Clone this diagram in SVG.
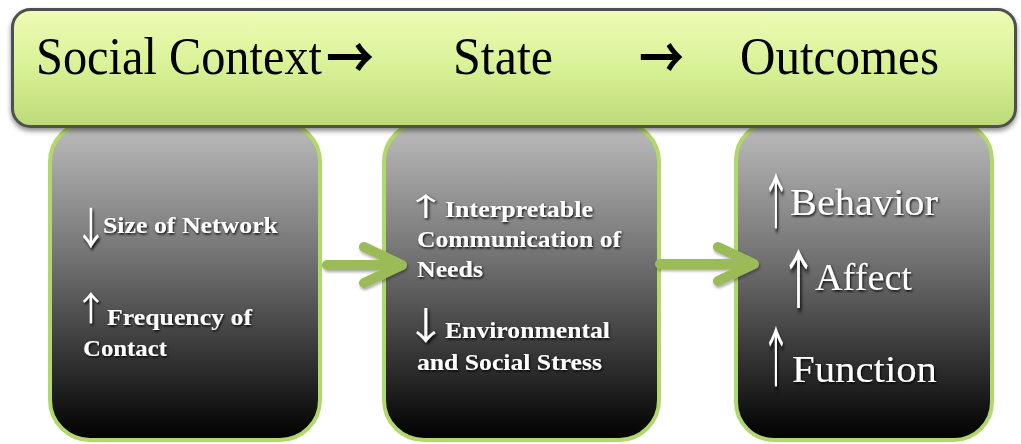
<svg xmlns="http://www.w3.org/2000/svg" width="1021" height="444" viewBox="0 0 1021 444">
<defs>
<linearGradient id="hdr" x1="0" y1="0" x2="0" y2="1">
<stop offset="0" stop-color="#eefcb6"/>
<stop offset="0.5" stop-color="#d8f196"/>
<stop offset="1" stop-color="#bcd977"/>
</linearGradient>
<linearGradient id="box" x1="0" y1="0" x2="0" y2="1">
<stop offset="0" stop-color="#bdbdbd"/>
<stop offset="0.45" stop-color="#6e6e6e"/>
<stop offset="1" stop-color="#000000"/>
</linearGradient>
<filter id="hs" x="-5%" y="-20%" width="110%" height="150%">
<feDropShadow dx="0" dy="3" stdDeviation="2.5" flood-color="#000" flood-opacity="0.45"/>
</filter>
<filter id="ts" x="-10%" y="-30%" width="120%" height="160%">
<feDropShadow dx="1" dy="1.5" stdDeviation="1" flood-color="#000" flood-opacity="0.9"/>
</filter>
<filter id="as" x="-10%" y="-30%" width="120%" height="160%">
<feDropShadow dx="1" dy="2" stdDeviation="1.5" flood-color="#000" flood-opacity="0.35"/>
</filter>
</defs>
<style>
.node rect{fill:url(#box);stroke:#b1d86a;stroke-width:4}
.t{font-family:"Liberation Serif","DejaVu Serif",serif;fill:#fff;filter:url(#ts)}
.b{font-weight:bold;font-size:23px}
.n{font-size:37px}
.ar{font-family:"Noto Sans CJK JP","DejaVu Sans",sans-serif;font-size:26px;fill:#fff;filter:url(#ts)}
.h{font-family:"Liberation Serif","DejaVu Serif",serif;font-size:52px;fill:#000}
.ha{font-family:"Noto Sans CJK JP","DejaVu Sans",sans-serif;font-weight:bold;font-size:58px;fill:#000}
.conn path{fill:none;stroke:#9bbb59;stroke-width:10;stroke-linecap:round;stroke-linejoin:round}
</style>

<g id="node-social-context" class="node">
<rect x="50" y="122" width="270" height="318" rx="40"/>
<text class="ar" transform="translate(74,244) scale(1.3,1.67)">↓</text>
<text class="t b" x="103" y="233" textLength="175" lengthAdjust="spacingAndGlyphs">Size of Network</text>
<text class="ar" transform="translate(74,321) scale(1.3,1.3)">↑</text>
<text class="t b" x="107" y="325" textLength="145" lengthAdjust="spacingAndGlyphs">Frequency of</text>
<text class="t b" x="83" y="356" textLength="84" lengthAdjust="spacingAndGlyphs">Contact</text>
</g>

<g id="node-state" class="node">
<rect x="384" y="122" width="275" height="318" rx="40"/>
<text class="ar" transform="translate(405,216) scale(1.6,1.0)">↑</text>
<text class="t b" x="445" y="217" textLength="148" lengthAdjust="spacingAndGlyphs">Interpretable</text>
<text class="t b" x="417" y="247" textLength="204" lengthAdjust="spacingAndGlyphs">Communication of</text>
<text class="t b" x="417" y="277" textLength="66" lengthAdjust="spacingAndGlyphs">Needs</text>
<text class="ar" transform="translate(405,339) scale(1.6,1.45)">↓</text>
<text class="t b" x="445" y="338" textLength="165" lengthAdjust="spacingAndGlyphs">Environmental</text>
<text class="t b" x="417" y="370" textLength="185" lengthAdjust="spacingAndGlyphs">and Social Stress</text>
</g>

<g id="node-outcomes" class="node">
<rect x="736" y="122" width="256" height="318" rx="38"/>
<text class="ar" transform="translate(761,224) scale(1.15,2.3)">↑</text>
<text class="t n" x="790" y="215" textLength="148" lengthAdjust="spacingAndGlyphs">Behavior</text>
<text class="ar" transform="translate(779,303) scale(1.5,2.45)">↑</text>
<text class="t n" x="815" y="290" textLength="97" lengthAdjust="spacingAndGlyphs">Affect</text>
<text class="ar" transform="translate(761,381) scale(1.15,2.5)">↑</text>
<text class="t n" x="792" y="382" textLength="145" lengthAdjust="spacingAndGlyphs">Function</text>
</g>

<g id="node-header">
<rect x="12.5" y="9.5" width="1003" height="117" rx="18" fill="url(#hdr)" stroke="#505050" stroke-width="3" filter="url(#hs)"/>
<text class="h" x="36" y="74"><tspan textLength="286" lengthAdjust="spacingAndGlyphs">Social Context</tspan><tspan class="ha" x="326" y="79" textLength="48" lengthAdjust="spacingAndGlyphs">→</tspan></text>
<text class="h" x="453" y="74" textLength="100" lengthAdjust="spacingAndGlyphs">State</text>
<text class="ha" x="639" y="79" textLength="45" lengthAdjust="spacingAndGlyphs">→</text>
<text class="h" x="740" y="74" textLength="199" lengthAdjust="spacingAndGlyphs">Outcomes</text>
</g>

<g id="connectors" class="conn" filter="url(#as)">
<path d="M327,265 H400 M364,247 L402,265 L364,283"/>
<path d="M660,264 H752 M718,247 L754,264 L718,281"/>
</g>
</svg>
